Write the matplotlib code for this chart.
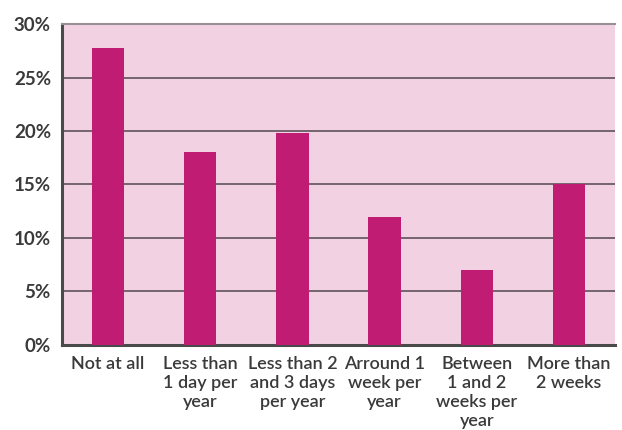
import numpy as np
import matplotlib.pyplot as plt

categories = ["Not at all", "Less than\n1 day per\nyear", "Less than 2\nand 3 days\nper year",
              "Arround 1\nweek per\nyear", "Between\n1 and 2\nweeks per\nyear", "More than\n2 weeks"]
values = [27.8, 18.0, 19.8, 12.0, 7.0, 15.0]
yticks = [0, 5, 10, 15, 20, 25, 30]

plt.rcParams['font.family'] = ['Lato', 'DejaVu Sans']

fig = plt.figure(figsize=(6.22, 4.30), dpi=100)
ax = fig.add_axes([0.0997, 0.198, 0.889, 0.746])
ax.set_facecolor("#f2d1e3")

x = np.arange(len(categories))
ax.set_axisbelow(True)
ax.yaxis.grid(True, color="#6a5c64", linewidth=1.3)
ax.bar(x, values, width=0.35, color="#c01c73", zorder=3)

ax.set_xlim(-0.5, len(categories) - 0.5)
ax.set_ylim(0, 30)
ax.set_yticks(yticks)
ax.set_yticklabels([f"{v}%" for v in yticks], fontsize=13.5, color="#3a3a3a", fontweight="bold")
ax.set_xticks(x)
ax.set_xticklabels(categories, fontsize=13, color="#3a3a3a", linespacing=1.22, fontweight="semibold")
ax.tick_params(axis="both", length=0)
ax.tick_params(axis="x", pad=8)
ax.tick_params(axis="y", pad=8)

ax.spines["right"].set_visible(False)
ax.spines["top"].set_color("#9a8f95")
ax.spines["top"].set_linewidth(1.5)
for s in ["left", "bottom"]:
    ax.spines[s].set_color("#4a4a4a")
    ax.spines[s].set_linewidth(2.2)

fig.savefig("out.png", dpi=100)
